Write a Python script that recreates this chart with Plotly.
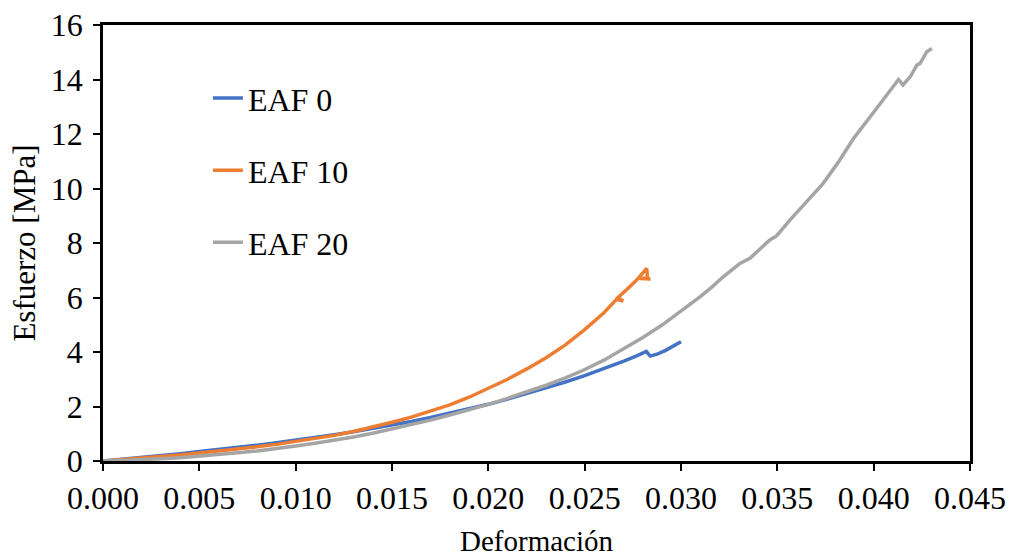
import plotly.graph_objects as go

# EAF 0
x_eaf0 = [0, 0.001, 0.002, 0.003, 0.004, 0.005, 0.006, 0.007, 0.008, 0.009, 0.010,
          0.011, 0.012, 0.013, 0.014, 0.015, 0.016, 0.017, 0.018, 0.019, 0.020,
          0.021, 0.022, 0.023, 0.024, 0.025, 0.026, 0.027, 0.0277, 0.0282,
          0.0284, 0.0288, 0.0292, 0.0296, 0.030]
y_eaf0 = [0, 0.06, 0.13, 0.20, 0.27, 0.35, 0.42, 0.50, 0.58, 0.67, 0.76,
          0.86, 0.96, 1.07, 1.19, 1.32, 1.45, 1.60, 1.75, 1.91, 2.08,
          2.27, 2.47, 2.68, 2.90, 3.13, 3.38, 3.66, 3.86, 4.02,
          3.85, 3.93, 4.06, 4.21, 4.38]

# EAF 10
x_eaf10 = [0, 0.001, 0.002, 0.003, 0.004, 0.005, 0.006, 0.007, 0.008, 0.009, 0.010,
           0.011, 0.012, 0.013, 0.014, 0.015, 0.016, 0.017, 0.018, 0.019, 0.020,
           0.021, 0.022, 0.023, 0.024, 0.025, 0.026, 0.02665, 0.02700, 0.02672,
           0.0272, 0.0277, 0.02822, 0.02826, 0.02785, 0.02842]
y_eaf10 = [0, 0.05, 0.10, 0.16, 0.22, 0.29, 0.36, 0.44, 0.52, 0.61, 0.71,
           0.82, 0.94, 1.08, 1.24, 1.42, 1.61, 1.82, 2.06, 2.34, 2.66,
           3.00, 3.38, 3.79, 4.26, 4.82, 5.44, 5.93, 5.87, 5.99,
           6.30, 6.64, 7.07, 6.72, 6.70, 6.68]

# EAF 20
x_eaf20 = [0, 0.001, 0.002, 0.003, 0.004, 0.005, 0.006, 0.007, 0.008, 0.009, 0.010,
           0.011, 0.012, 0.013, 0.014, 0.015, 0.016, 0.017, 0.018, 0.019, 0.020,
           0.021, 0.022, 0.023, 0.024, 0.0249, 0.026, 0.027, 0.028, 0.029, 0.030,
           0.03046, 0.0310, 0.0316, 0.03219, 0.03306, 0.03358, 0.0341, 0.03461,
           0.03496, 0.03565, 0.0365, 0.03738, 0.0382, 0.03896, 0.0400, 0.04129,
           0.04152, 0.0419, 0.04224, 0.04241, 0.04276, 0.04302]
y_eaf20 = [0, 0.02, 0.05, 0.08, 0.12, 0.17, 0.23, 0.30, 0.37, 0.45, 0.55,
           0.65, 0.76, 0.88, 1.02, 1.17, 1.33, 1.50, 1.69, 1.88, 2.08,
           2.30, 2.53, 2.78, 3.05, 3.32, 3.70, 4.10, 4.52, 4.98, 5.50,
           5.76, 6.03, 6.38, 6.76, 7.25, 7.44, 7.78, 8.11,
           8.26, 8.84, 9.50, 10.19, 11.00, 11.84, 12.80, 14.00,
           13.80, 14.10, 14.53, 14.59, 15.02, 15.14]

x_ticks = [0, 0.005, 0.010, 0.015, 0.020, 0.025, 0.030, 0.035, 0.040, 0.045]
x_tick_labels = ["0.000", "0.005", "0.010", "0.015", "0.020", "0.025", "0.030",
                 "0.035", "0.040", "0.045"]
y_ticks = [0, 2, 4, 6, 8, 10, 12, 14, 16]

FONT = "Times New Roman, Liberation Serif, Tinos, serif"

fig = go.Figure()
series = [
    ("EAF 0", x_eaf0, y_eaf0, "#4472C4"),
    ("EAF 10", x_eaf10, y_eaf10, "#ED7D31"),
    ("EAF 20", x_eaf20, y_eaf20, "#A5A5A5"),
]
for name, xs, ys, col in series:
    fig.add_trace(go.Scatter(x=xs, y=ys, mode="lines", name=name,
                             legendgroup=name,
                             line=dict(color=col, width=3.5)))

fig.update_layout(
    width=1010, height=559,
    margin=dict(l=103, r=40, t=25, b=98),
    paper_bgcolor="white", plot_bgcolor="white",
    font=dict(family=FONT, size=32, color="black"),
    showlegend=True,
    legend=dict(x=0.121, y=0.895, xanchor="left", yanchor="top",
                bgcolor="rgba(0,0,0,0)", tracegroupgap=27.5,
                font=dict(family=FONT, size=32, color="black"),
                traceorder="grouped"),
    xaxis=dict(range=[0, 0.045], tickvals=x_ticks, ticktext=x_tick_labels,
               showgrid=False, zeroline=False, showline=True, linecolor="black",
               linewidth=2.5, mirror=True, ticks="outside", ticklen=7,
               tickwidth=2, tickcolor="black", tickfont=dict(size=32),
               automargin=False,
               title=dict(text="Deformación", font=dict(size=29), standoff=16)),
    yaxis=dict(range=[0, 16], tickvals=y_ticks,
               showgrid=False, zeroline=False, showline=True, linecolor="black",
               linewidth=2.5, mirror=True, ticks="outside", ticklen=7,
               tickwidth=2, tickcolor="black", tickfont=dict(size=32),
               ticklabelstandoff=4, automargin=False,
               title=dict(text="Esfuerzo [MPa]", font=dict(size=31), standoff=6)),
)

fig.write_html("out.html")
